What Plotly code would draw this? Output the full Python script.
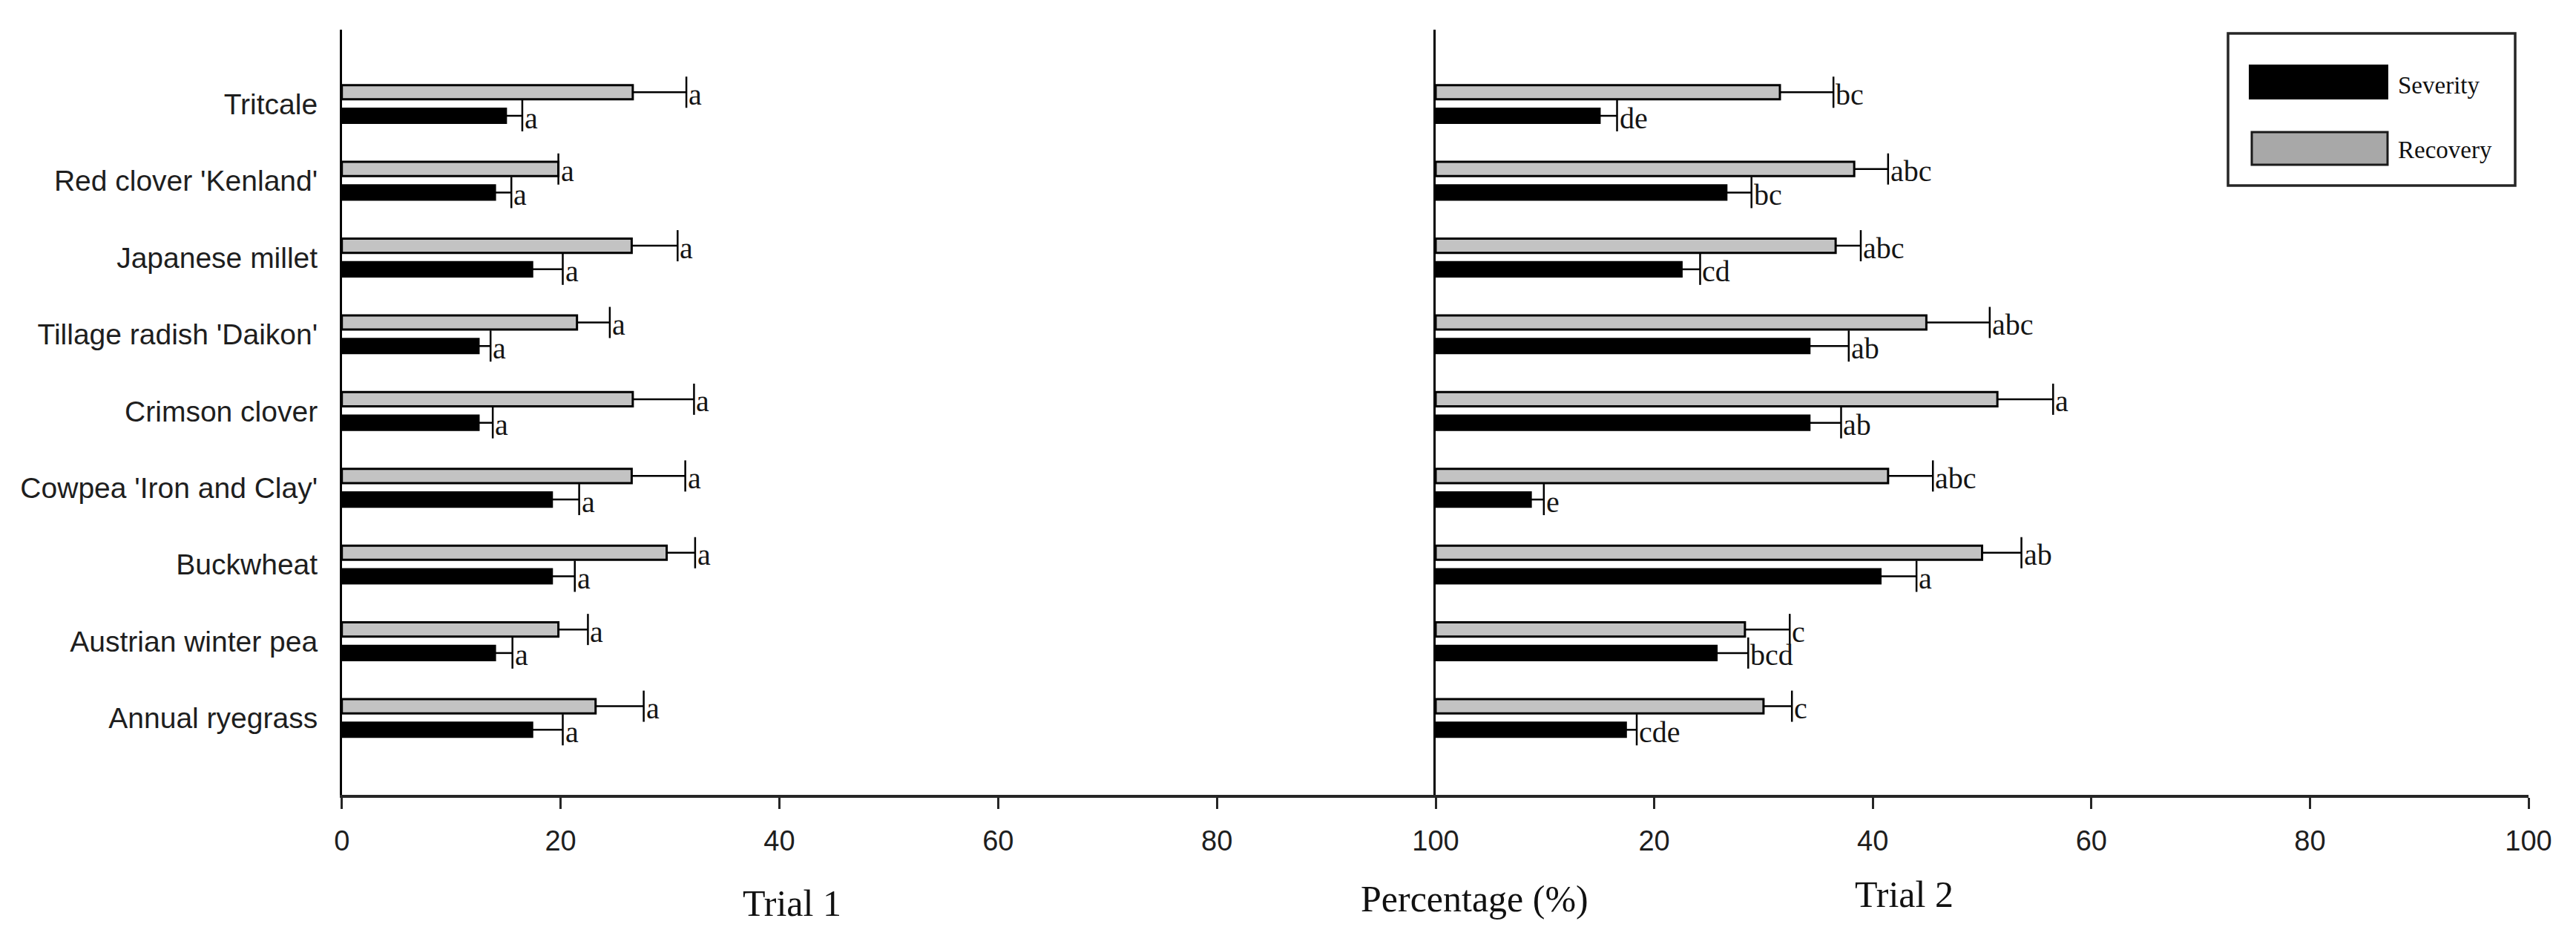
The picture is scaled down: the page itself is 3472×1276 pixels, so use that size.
import numpy as np
import plotly.graph_objects as go

# ---------------- data (top to bottom as displayed) ----------------
categories = ["Tritcale", "Red clover 'Kenland'", "Japanese millet",
              "Tillage radish 'Daikon'", "Crimson clover", "Cowpea 'Iron and Clay'",
              "Buckwheat", "Austrian winter pea", "Annual ryegrass"]

trial1_recovery = [26.6, 19.8, 26.5, 21.5, 26.6, 26.5, 29.7, 19.8, 23.2]
trial1_recovery_err = [4.9, 0.0, 4.2, 3.0, 5.6, 4.9, 2.6, 2.7, 4.4]
trial1_severity = [15.0, 14.0, 17.4, 12.5, 12.5, 19.2, 19.2, 14.0, 17.4]
trial1_severity_err = [1.5, 1.5, 2.8, 1.1, 1.3, 2.5, 2.1, 1.6, 2.8]

trial2_recovery = [31.5, 38.3, 36.6, 44.9, 51.4, 41.4, 50.0, 28.3, 30.0]
trial2_recovery_err = [4.9, 3.1, 2.3, 5.8, 5.1, 4.1, 3.6, 4.1, 2.6]
trial2_severity = [15.0, 26.6, 22.5, 34.2, 34.2, 8.7, 40.7, 25.7, 17.4]
trial2_severity_err = [1.6, 2.3, 1.7, 3.6, 2.9, 1.2, 3.3, 2.9, 1.0]

trial1_recovery_letters = ["a"] * 9
trial1_severity_letters = ["a"] * 9
trial2_recovery_letters = ["bc", "abc", "abc", "abc", "a", "abc", "ab", "c", "c"]
trial2_severity_letters = ["de", "bc", "cd", "ab", "ab", "e", "a", "bcd", "cde"]

x_ticks = [0, 20, 40, 60, 80, 100]
x_ticktext_left = ["0", "20", "40", "60", "80", "100"]
x_ticktext_right = ["", "20", "40", "60", "80", "100"]
panel_titles = ["Trial 1", "Percentage (%)", "Trial 2"]
legend_names = ["Severity", "Recovery"]

# ---------------- styling ----------------
W, H = 3472, 1276
SANS = "Liberation Sans, Arial, sans-serif"
SERIF = "Liberation Serif, Times New Roman, serif"
GRAY_BAR = "#c3c3c3"
GRAY_LEG = "#a8a8a8"
AX = "#262626"

n = len(categories)
idx = np.arange(n)[::-1].astype(float)   # top category gets highest y
OFF_REC, OFF_SEV = 0.155, -0.152
BAR_W = 0.185


def px_x(p):
    return p / W


def px_y(p):
    return 1 - p / H


fig = go.Figure()


def add_series(vals, errs, letters, offset, color, xa, ya):
    y = idx + offset
    fig.add_trace(go.Bar(x=vals, y=y, orientation="h", width=BAR_W,
                         marker=dict(color=color, line=dict(color="black", width=3)),
                         xaxis=xa, yaxis=ya, showlegend=False, hoverinfo="skip"))
    ends = [v + e for v, e in zip(vals, errs)]
    lx, ly = [], []
    for v, e_end, yy in zip(vals, ends, y):
        lx += [v, e_end, None]
        ly += [yy, yy, None]
    fig.add_trace(go.Scatter(x=lx, y=ly, mode="lines", line=dict(color="black", width=2.5),
                             xaxis=xa, yaxis=ya, showlegend=False, hoverinfo="skip"))
    fig.add_trace(go.Scatter(x=ends, y=y, mode="markers",
                             marker=dict(symbol="line-ns", size=30,
                                         line=dict(color="black", width=2.5)),
                             xaxis=xa, yaxis=ya, showlegend=False, hoverinfo="skip"))
    for xe, yy, t in zip(ends, y, letters):
        fig.add_annotation(x=xe, y=yy, xref=xa, yref=ya, text=t, showarrow=False,
                           xanchor="left", yanchor="middle", xshift=1, yshift=-3,
                           font=dict(family=SERIF, size=40, color="#151515"))


add_series(trial1_recovery, trial1_recovery_err, trial1_recovery_letters, OFF_REC, GRAY_BAR, "x", "y")
add_series(trial1_severity, trial1_severity_err, trial1_severity_letters, OFF_SEV, "black", "x", "y")
add_series(trial2_recovery, trial2_recovery_err, trial2_recovery_letters, OFF_REC, GRAY_BAR, "x2", "y2")
add_series(trial2_severity, trial2_severity_err, trial2_severity_letters, OFF_SEV, "black", "x2", "y2")

x0_px, xm_px, x1_px = 460.7, 1935.0, 3408.0
ytop_px, ybot_px = 40.0, 1071.0
ydom = [px_y(ybot_px), px_y(ytop_px)]
yrange = [-1.0, 8.97]

xaxis_common = dict(range=[0, 100], tickvals=x_ticks, showline=True, linewidth=4,
                    linecolor=AX, ticks="outside", ticklen=15, tickwidth=3, tickcolor=AX,
                    showgrid=False, zeroline=False, fixedrange=True, automargin=False,
                    tickfont=dict(family=SANS, size=38, color="#1e1e1e"),
                    ticklabelstandoff=10)

fig.update_layout(
    width=W, height=H, autosize=False,
    margin=dict(l=0, r=0, t=0, b=0, pad=0, autoexpand=False),
    paper_bgcolor="white", plot_bgcolor="white", barmode="overlay",
    showlegend=False,
    xaxis=dict(domain=[px_x(x0_px), px_x(xm_px)], anchor="y",
               ticktext=x_ticktext_left, **xaxis_common),
    xaxis2=dict(domain=[px_x(xm_px), px_x(x1_px)], anchor="y2",
                ticktext=x_ticktext_right, **xaxis_common),
    yaxis=dict(domain=ydom, range=yrange, anchor="x", tickvals=idx, ticktext=categories,
               showline=True, linewidth=2.5, linecolor="black", ticks="",
               showgrid=False, zeroline=False, fixedrange=True, automargin=False,
               tickfont=dict(family=SANS, size=39, color="#1e1e1e"),
               ticklabelstandoff=22),
    yaxis2=dict(domain=ydom, range=yrange, anchor="x2", matches="y",
                showline=True, linewidth=2.5, linecolor="black", ticks="",
                showticklabels=False, showgrid=False, zeroline=False, fixedrange=True,
                automargin=False),
)

# panel / axis titles
for txt, cx, cy in zip(panel_titles, [1067, 1987, 2566], [1217, 1211, 1205]):
    fig.add_annotation(x=px_x(cx), y=px_y(cy), xref="paper", yref="paper", text=txt,
                       showarrow=False, xanchor="center", yanchor="middle",
                       font=dict(family=SERIF, size=50, color="#111111"))

# legend box
fig.add_shape(type="rect", xref="paper", yref="paper",
              x0=px_x(3003), x1=px_x(3390), y0=px_y(250), y1=px_y(45),
              line=dict(color=AX, width=3.5), fillcolor="white", layer="above")
fig.add_shape(type="rect", xref="paper", yref="paper",
              x0=px_x(3032), x1=px_x(3218), y0=px_y(133), y1=px_y(88),
              line=dict(color="black", width=2), fillcolor="black", layer="above")
fig.add_shape(type="rect", xref="paper", yref="paper",
              x0=px_x(3035), x1=px_x(3218), y0=px_y(222), y1=px_y(178),
              line=dict(color="#1a1a1a", width=3), fillcolor=GRAY_LEG, layer="above")
for txt, cy in zip(legend_names, [115, 202]):
    fig.add_annotation(x=px_x(3230), y=px_y(cy), xref="paper", yref="paper", text=txt,
                       showarrow=False, xanchor="left", yanchor="middle",
                       font=dict(family=SERIF, size=33, color="#111111"))

fig.write_html("out.html", config={"displayModeBar": False},
               post_script="document.body.style.margin='0';document.body.style.overflow='hidden';")
